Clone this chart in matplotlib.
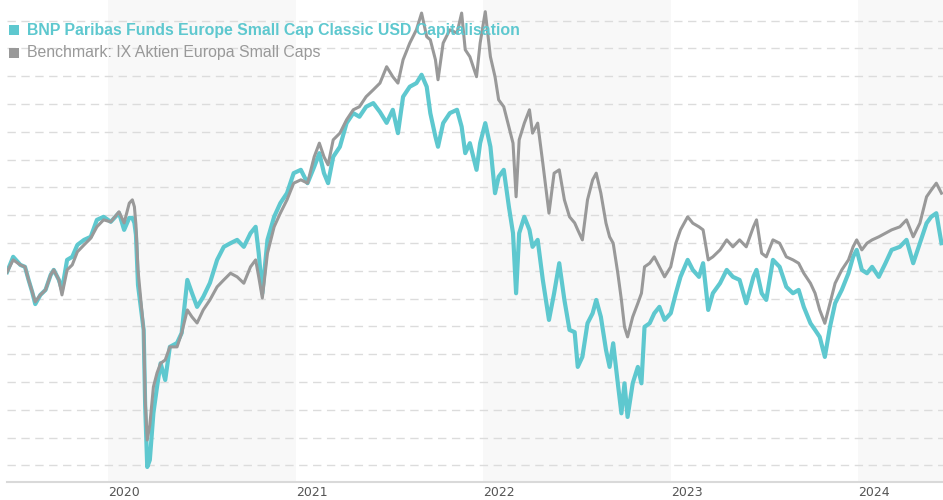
import matplotlib
matplotlib.use("Agg")
import matplotlib.pyplot as plt
import pandas as pd

# values (index, start = 100)
dates = [
    "2019-06-19", "2019-07-01", "2019-07-15", "2019-07-24", "2019-07-31", "2019-08-07",
    "2019-08-13", "2019-08-23", "2019-09-02", "2019-09-12", "2019-09-18", "2019-09-28",
    "2019-10-04", "2019-10-14", "2019-10-24", "2019-11-03", "2019-11-16", "2019-11-29",
    "2019-12-11", "2019-12-24", "2020-01-07", "2020-01-23", "2020-02-02", "2020-02-12",
    "2020-02-18", "2020-02-22", "2020-02-25", "2020-02-29", "2020-03-11", "2020-03-14",
    "2020-03-18", "2020-03-23", "2020-03-30", "2020-04-06", "2020-04-13", "2020-04-22",
    "2020-05-01", "2020-05-15", "2020-05-24", "2020-06-04", "2020-06-13", "2020-06-23",
    "2020-07-05", "2020-07-18", "2020-08-01", "2020-08-14", "2020-08-27", "2020-09-09",
    "2020-09-22", "2020-10-05", "2020-10-15", "2020-10-21", "2020-10-28", "2020-11-07",
    "2020-11-20", "2020-12-02", "2020-12-15", "2020-12-28", "2021-01-11", "2021-01-24",
    "2021-02-06", "2021-02-16", "2021-02-25", "2021-03-05", "2021-03-15", "2021-03-28",
    "2021-04-10", "2021-04-23", "2021-05-05", "2021-05-18", "2021-06-01", "2021-06-14",
    "2021-06-27", "2021-07-09", "2021-07-19", "2021-07-29", "2021-08-11", "2021-08-24",
    "2021-09-03", "2021-09-13", "2021-09-20", "2021-09-30", "2021-10-05", "2021-10-15",
    "2021-10-28", "2021-11-11", "2021-11-20", "2021-11-27", "2021-12-06", "2021-12-19",
    "2021-12-26", "2022-01-05", "2022-01-15", "2022-01-24", "2022-01-31", "2022-02-10",
    "2022-02-20", "2022-02-28", "2022-03-06", "2022-03-12", "2022-03-22", "2022-04-01",
    "2022-04-07", "2022-04-17", "2022-04-27", "2022-05-09", "2022-05-19", "2022-05-29",
    "2022-06-08", "2022-06-18", "2022-06-28", "2022-07-04", "2022-07-13", "2022-07-23",
    "2022-08-02", "2022-08-09", "2022-08-18", "2022-08-28", "2022-09-04", "2022-09-11",
    "2022-09-20", "2022-09-27", "2022-10-03", "2022-10-09", "2022-10-19", "2022-10-29",
    "2022-11-05", "2022-11-11", "2022-11-21", "2022-11-30", "2022-12-10", "2022-12-20",
    "2023-01-01", "2023-01-11", "2023-01-20", "2023-02-03", "2023-02-13", "2023-02-25",
    "2023-03-05", "2023-03-15", "2023-03-24", "2023-04-07", "2023-04-20", "2023-05-02",
    "2023-05-15", "2023-05-28", "2023-06-11", "2023-06-17", "2023-06-27", "2023-07-06",
    "2023-07-19", "2023-08-01", "2023-08-14", "2023-08-27", "2023-09-07", "2023-09-17",
    "2023-09-30", "2023-10-09", "2023-10-18", "2023-10-28", "2023-11-07", "2023-11-17",
    "2023-11-30", "2023-12-13", "2023-12-22", "2023-12-29", "2024-01-08", "2024-01-18",
    "2024-01-28", "2024-02-10", "2024-02-23", "2024-03-06", "2024-03-22", "2024-04-04",
    "2024-04-17", "2024-04-30", "2024-05-13", "2024-05-22", "2024-06-01", "2024-06-11",
]

fund = [
    99.5, 105.0, 102.1, 101.4, 96.7, 92.4, 88.0, 91.3, 93.1, 98.5, 100.3, 96.7,
    93.1, 103.9, 105.0, 109.3, 111.1, 112.2, 118.3, 119.4, 117.6, 120.8, 114.7, 119.0,
    119.0, 117.2, 112.9, 94.9, 78.7, 51.0, 29.4, 31.9, 48.8, 58.2, 66.7, 60.7,
    72.6, 74.0, 77.6, 96.7, 92.0, 87.0, 90.6, 95.6, 103.9, 108.6, 109.9, 111.1,
    108.6, 113.5, 115.8, 106.3, 91.9, 111.1, 119.4, 124.3, 127.9, 135.1, 136.3, 131.5,
    137.4, 142.3, 135.1, 131.5, 141.0, 144.6, 153.1, 156.7, 155.4, 159.0, 160.3, 157.1,
    153.2, 157.9, 149.5, 162.6, 166.2, 167.5, 170.5, 166.2, 156.7, 148.2, 144.6, 153.1,
    156.7, 157.9, 151.8, 142.3, 145.9, 136.3, 145.9, 153.1, 144.6, 127.9, 133.8, 136.3,
    123.0, 113.5, 91.9, 113.5, 119.4, 114.7, 108.6, 111.1, 96.7, 82.3, 91.9, 102.7,
    89.5, 78.7, 77.9, 65.4, 69.0, 81.1, 84.7, 89.5, 83.4, 71.5, 65.4, 73.9,
    59.5, 48.7, 59.5, 47.4, 59.5, 65.4, 59.5, 79.8, 81.1, 84.7, 87.0, 82.3,
    84.7, 91.9, 97.8, 103.9, 100.3, 97.8, 102.7, 85.9, 91.9, 95.5, 100.3, 97.8,
    96.7, 88.3, 97.8, 100.3, 91.9, 89.5, 103.9, 101.4, 94.2, 91.9, 93.1, 87.0,
    81.1, 78.7, 76.2, 69.0, 79.8, 88.3, 93.1, 99.1, 105.0, 107.5, 100.3, 99.1,
    101.4, 97.8, 102.7, 107.5, 108.6, 111.1, 102.7, 109.9, 117.1, 119.4, 120.7, 109.9,
]

benchmark = [
    99.5, 103.9, 102.1, 101.4, 96.7, 92.4, 88.8, 91.3, 93.1, 98.5, 100.3, 96.7,
    91.3, 100.3, 102.1, 106.8, 109.3, 111.7, 115.8, 118.3, 117.6, 121.2, 117.2, 124.3,
    125.5, 123.0, 116.5, 100.3, 78.7, 53.5, 39.1, 44.5, 58.2, 63.2, 66.7, 67.9,
    72.6, 72.6, 77.6, 85.9, 83.4, 81.2, 85.9, 89.5, 94.2, 96.7, 99.1, 97.8,
    95.5, 101.4, 103.9, 97.8, 90.2, 106.3, 115.8, 120.7, 125.5, 131.5, 132.7, 131.5,
    141.0, 145.9, 141.0, 138.1, 147.1, 149.5, 154.3, 157.9, 159.0, 162.6, 165.1, 167.5,
    173.4, 169.8, 167.5, 175.9, 181.9, 186.7, 192.7, 184.2, 183.1, 175.9, 168.7, 181.9,
    186.7, 185.5, 192.7, 179.5, 177.0, 169.8, 181.9, 193.2, 177.0, 169.8, 161.5, 159.0,
    151.8, 145.9, 126.6, 147.1, 153.1, 157.9, 149.5, 153.1, 138.7, 120.7, 135.1, 136.3,
    125.5, 119.4, 117.2, 114.7, 111.1, 125.5, 132.7, 135.1, 127.9, 117.1, 112.2, 109.9,
    99.1, 89.5, 79.8, 76.2, 83.4, 88.3, 91.9, 101.4, 102.7, 105.0, 101.4, 97.8,
    101.4, 109.9, 114.7, 119.4, 117.1, 115.8, 114.7, 103.9, 105.0, 107.5, 111.1, 108.6,
    111.1, 108.6, 115.8, 118.3, 106.3, 105.0, 111.1, 109.9, 105.0, 103.9, 102.7, 99.1,
    95.5, 91.9, 85.9, 81.1, 88.3, 95.5, 100.3, 103.9, 108.6, 111.1, 107.5, 109.9,
    111.1, 112.2, 113.5, 114.7, 115.8, 118.3, 112.2, 117.1, 126.6, 129.0, 131.5, 127.9,
]

years = ["2020", "2021", "2022", "2023", "2024"]
shaded_years = ["2020", "2022", "2024"]

fund_name = "BNP Paribas Funds Europe Small Cap Classic USD Capitalisation"
bench_name = "Benchmark: IX Aktien Europa Small Caps"

teal = "#5ec8cf"
grey = "#999999"

x = pd.to_datetime(dates)

fig = plt.figure(figsize=(9.43, 5.0), dpi=100)
ax = fig.add_axes([7 / 943, 18.3 / 500, 936 / 943, 481.7 / 500])

# alternating year bands
for y in shaded_years:
    ax.axvspan(pd.Timestamp(y + "-01-01"), pd.Timestamp(str(int(y) + 1) + "-01-01"),
               color="#f8f8f8", zorder=0, lw=0)

# dashed grid
for g in range(30, 200, 10):
    ax.axhline(g, color="#dcdcdc", lw=1, ls=(0, (6, 4)), zorder=1)

ax.plot(x, fund, color=teal, lw=3.0, zorder=3)
ax.plot(x, benchmark, color=grey, lw=2.2, zorder=4)

ax.set_xlim(pd.Timestamp("2019-06-19"), pd.Timestamp("2024-06-14"))
ax.set_ylim(24.1, 197.4)

for s in ["top", "right", "left"]:
    ax.spines[s].set_visible(False)
ax.spines["bottom"].set_color("#d9d9d9")
ax.spines["bottom"].set_linewidth(1.5)
ax.set_yticks([])

ax.set_xticks([pd.Timestamp(y + "-01-01") for y in years])
ax.set_xticklabels(years)
ax.tick_params(axis="x", length=0, pad=3, labelsize=9, labelcolor="#555555")
for lab in ax.get_xticklabels():
    lab.set_horizontalalignment("left")

# legend (squares + labels)
fig.add_artist(plt.Rectangle((9 / 943, 1 - 35 / 500), 10 / 943, 10 / 500,
                             transform=fig.transFigure, color=teal, lw=0))
fig.text(27 / 943, 1 - 30 / 500, fund_name, color=teal, fontsize=11.4, fontweight="bold",
         va="center", family="Liberation Sans")
fig.add_artist(plt.Rectangle((9 / 943, 1 - 58 / 500), 10 / 943, 10 / 500,
                             transform=fig.transFigure, color=grey, lw=0))
fig.text(27 / 943, 1 - 53 / 500, bench_name, color=grey, fontsize=11.4,
         va="center", family="Liberation Sans")

fig.savefig("out.png", dpi=100)
